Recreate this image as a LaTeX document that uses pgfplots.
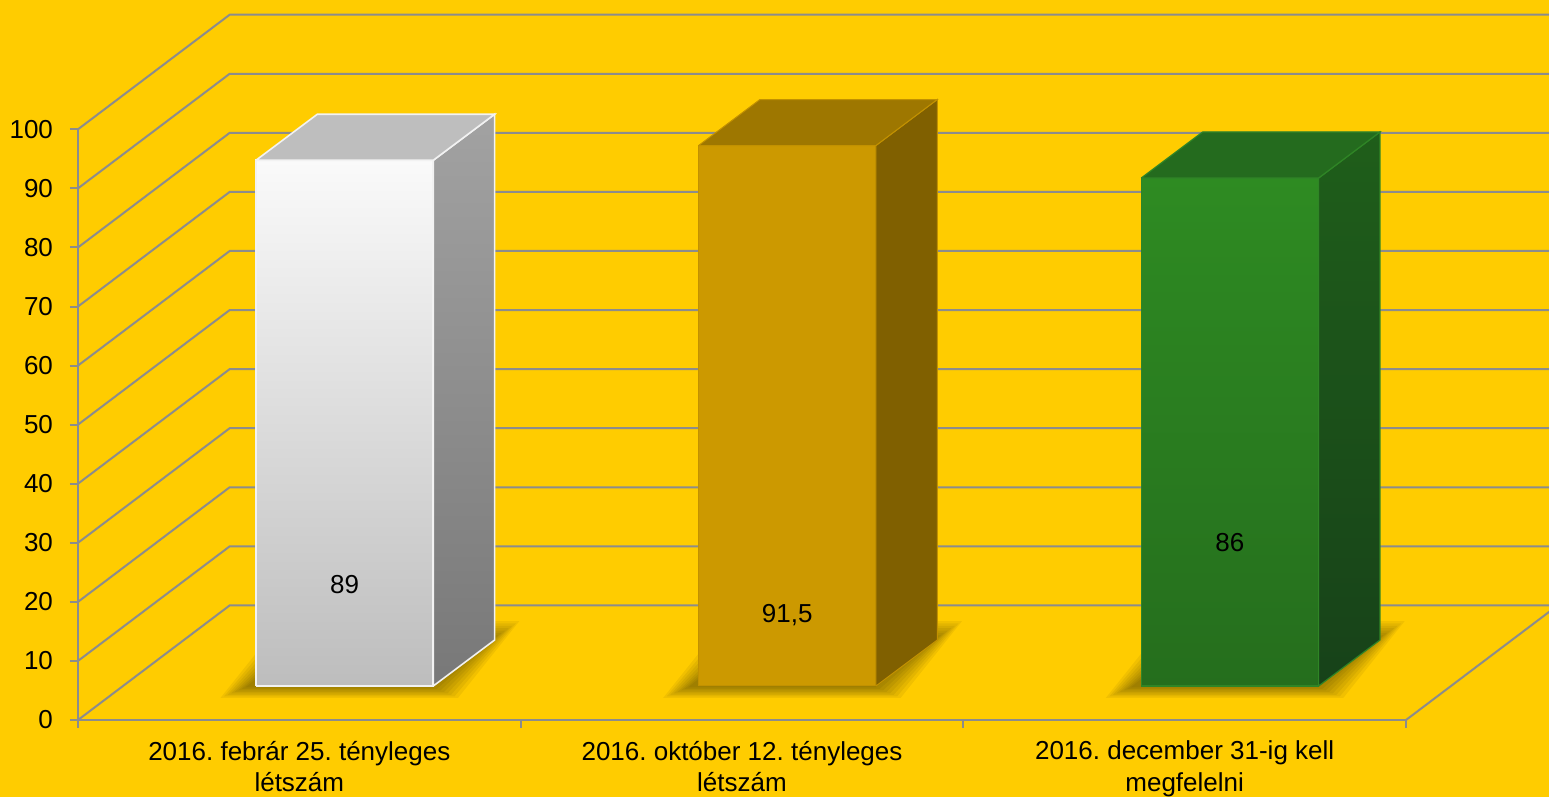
\documentclass[border=0pt]{standalone}
\usepackage{fontspec}
\setmainfont{Liberation Sans}
\usepackage{pgfplots}
\usepackage{pgfplotstable}
\pgfplotsset{compat=1.18}
\frenchspacing
\definecolor{bg}{HTML}{FFCC00}
\definecolor{gridc}{HTML}{8C8C8C}
\definecolor{wTop}{HTML}{FAFAFA}
\definecolor{wBot}{HTML}{BDBDBD}
\definecolor{wSideT}{HTML}{A2A2A2}
\definecolor{wSideB}{HTML}{787878}
\definecolor{wLid}{HTML}{BEBEBE}
\definecolor{wEdge}{HTML}{F2F2F2}
\definecolor{gFront}{HTML}{CC9900}
\definecolor{gSide}{HTML}{806000}
\definecolor{gLid}{HTML}{9E7700}
\definecolor{gEdge}{HTML}{C29100}
\definecolor{nTop}{HTML}{2E8B22}
\definecolor{nBot}{HTML}{256E1D}
\definecolor{nSideT}{HTML}{1F5E1A}
\definecolor{nSideB}{HTML}{174219}
\definecolor{nLid}{HTML}{246B1E}
\definecolor{nEdge}{HTML}{2F8526}

% unit square used to build the faces of the 3D bars
\pgfplotstableread{
a b
0 0
1 0
1 1
0 1
0 0
}\unitsq

% geometry of the oblique 3D projection (axis units)
\def\fx{0.1023}\def\fy{5.756}% offset of bar front face
\def\dx{0.1385}\def\dy{7.787}% depth of a bar
\def\hw{0.2003}% half width of a bar

\newcommand{\shadowlayer}[3]{%
  \addplot[draw=none, fill=black, fill opacity=0.055, forget plot]
    table[x expr={#1+\fx-\hw-#2-0.012+\thisrow{a}*(2*\hw+2*#2)+\thisrow{b}*\dx},
          y expr={\fy-#3+\thisrow{b}*(\dy+2.6*#3)}] {\unitsq};
}
\newcommand{\barshadow}[1]{%
  \shadowlayer{#1}{0.068}{2.0}
  \shadowlayer{#1}{0.060}{1.75}
  \shadowlayer{#1}{0.052}{1.5}
  \shadowlayer{#1}{0.044}{1.25}
  \shadowlayer{#1}{0.036}{1.0}
  \shadowlayer{#1}{0.028}{0.75}
  \shadowlayer{#1}{0.020}{0.5}
  \shadowlayer{#1}{0.012}{0.25}
}
% #1 category centre, #2 value, #3 front, #4 side, #5 top
\newcommand{\threedbar}[5]{%
  \addplot[#3] table[x expr={#1+\fx-\hw+2*\hw*\thisrow{a}},
                     y expr={\fy+#2*\thisrow{b}}] {\unitsq};
  \addplot[#4] table[x expr={#1+\fx+\hw+\dx*\thisrow{a}},
                     y expr={\fy+\dy*\thisrow{a}+#2*\thisrow{b}}] {\unitsq};
  \addplot[#5] table[x expr={#1+\fx-\hw+2*\hw*\thisrow{a}+\dx*\thisrow{b}},
                     y expr={\fy+#2+\dy*\thisrow{b}}] {\unitsq};
}

\begin{document}
\begin{tikzpicture}[x=1pt,y=1pt]
\fill[bg] (0,0) rectangle (774.5,398.5);
\begin{axis}[
  at={(39pt,38.5pt)}, anchor=south west,
  width=664pt, height=295.35pt, scale only axis,
  xmin=0, xmax=3, ymin=0, ymax=100,
  clip=false,
  axis lines=left,
  axis line style={draw=gridc, line width=1pt, -},
  xtick={0,1,2,3}, xticklabels={},
  extra x ticks={0.5,1.5,2.5},
  extra x tick labels={{2016. febrár 25. tényleges\\létszám},
                       {2016. október 12. tényleges\\létszám},
                       {2016. december 31-ig kell\\megfelelni}},
  extra x tick style={major tick length=0pt,
      tick label style={align=center, yshift=-7pt}},
  ytick={0,10,...,100},
  tick style={draw=gridc, line width=1pt},
  tick align=outside, major tick length=4pt,
  tick label style={font=\fontsize{13}{15.8}\selectfont, text=black},
  yticklabel style={xshift=-5pt},
  /pgf/number format/assume math mode=true,
]
% back wall, side wall and floor lines
\addplot[draw=gridc, line width=1pt, unbounded coords=jump, forget plot] coordinates {
 (0,0) (0.3427,19.4) (3.3427,19.4) (nan,nan)
 (0,10) (0.3427,29.4) (3.3427,29.4) (nan,nan)
 (0,20) (0.3427,39.4) (3.3427,39.4) (nan,nan)
 (0,30) (0.3427,49.4) (3.3427,49.4) (nan,nan)
 (0,40) (0.3427,59.4) (3.3427,59.4) (nan,nan)
 (0,50) (0.3427,69.4) (3.3427,69.4) (nan,nan)
 (0,60) (0.3427,79.4) (3.3427,79.4) (nan,nan)
 (0,70) (0.3427,89.4) (3.3427,89.4) (nan,nan)
 (0,80) (0.3427,99.4) (3.3427,99.4) (nan,nan)
 (0,90) (0.3427,109.4) (3.3427,109.4) (nan,nan)
 (0,100) (0.3427,119.4) (3.3427,119.4) (nan,nan)
 (3,0) (3.3427,19.4)
};
% shadows
\barshadow{0.5}
\barshadow{1.5}
\barshadow{2.5}
% bars
\threedbar{0.5}{89}
  {draw=wEdge, line width=0.8pt, top color=wTop, bottom color=wBot}
  {draw=wEdge, line width=0.8pt, top color=wSideT, bottom color=wSideB}
  {draw=wEdge, line width=0.8pt, fill=wLid}
\threedbar{1.5}{91.5}
  {draw=gEdge, line width=0.5pt, fill=gFront}
  {draw=gEdge, line width=0.5pt, fill=gSide}
  {draw=gEdge, line width=0.5pt, fill=gLid}
\threedbar{2.5}{86}
  {draw=nEdge, line width=0.6pt, top color=nTop, bottom color=nBot}
  {draw=nEdge, line width=0.6pt, top color=nSideT, bottom color=nSideB}
  {draw=nEdge, line width=0.6pt, fill=nLid}
% value labels
\node[font=\fontsize{13}{15}\selectfont] at (axis cs:0.6023,22.85) {89};
\node[font=\fontsize{13}{15}\selectfont] at (axis cs:1.6023,17.78) {91,5};
\node[font=\fontsize{13}{15}\selectfont] at (axis cs:2.6023,29.96) {86};
\end{axis}
\pgfresetboundingbox
\path[use as bounding box] (0,0) rectangle (774.5,398.5);
\end{tikzpicture}
\end{document}
